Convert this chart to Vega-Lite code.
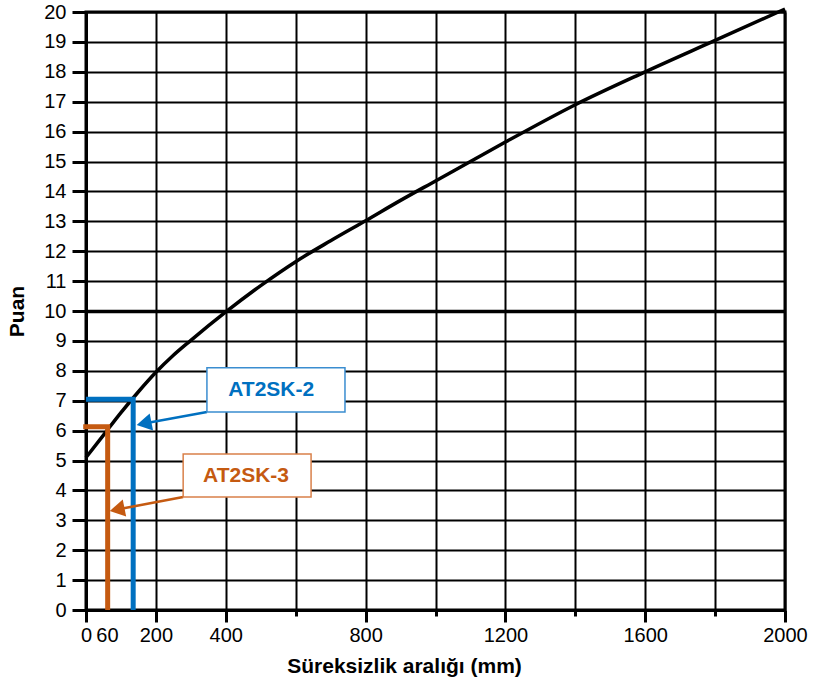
{
  "$schema": "https://vega.github.io/schema/vega-lite/v6.json",
  "width": 699,
  "height": 598,
  "autosize": {"type": "none"},
  "padding": {"left": 86, "top": 12, "right": 31, "bottom": 74},
  "background": "white",
  "config": {
    "view": {"stroke": "black", "strokeWidth": 3},
    "font": "Liberation Sans"
  },
  "datasets": {
    "curve": [
      {"mm": 0, "puan": 5.1},
      {"mm": 50, "puan": 5.85},
      {"mm": 100, "puan": 6.6},
      {"mm": 150, "puan": 7.3},
      {"mm": 200, "puan": 7.95},
      {"mm": 250, "puan": 8.52},
      {"mm": 300, "puan": 9.02},
      {"mm": 400, "puan": 9.97},
      {"mm": 500, "puan": 10.85},
      {"mm": 600, "puan": 11.65},
      {"mm": 700, "puan": 12.35},
      {"mm": 800, "puan": 13.02},
      {"mm": 900, "puan": 13.7},
      {"mm": 1000, "puan": 14.35},
      {"mm": 1100, "puan": 15.0},
      {"mm": 1200, "puan": 15.65},
      {"mm": 1400, "puan": 16.9},
      {"mm": 1600, "puan": 18.0},
      {"mm": 1800, "puan": 19.05},
      {"mm": 2000, "puan": 20.1}
    ],
    "guides": [
      {"name": "AT2SK-2", "mm": 0, "puan": 7.05, "o": 1},
      {"name": "AT2SK-2", "mm": 135, "puan": 7.05, "o": 2},
      {"name": "AT2SK-2", "mm": 135, "puan": 0, "o": 3},
      {"name": "AT2SK-3", "mm": -8, "puan": 6.13, "o": 1},
      {"name": "AT2SK-3", "mm": 62, "puan": 6.13, "o": 2},
      {"name": "AT2SK-3", "mm": 62, "puan": 0, "o": 3}
    ],
    "labels": [
      {"name": "AT2SK-2", "bx": 346, "bx2": 741, "by": 8.1, "by2": 6.62, "tx": 530, "ty": 7.36, "ax": 346, "ay": 6.62, "ax2": 166, "ay2": 6.24},
      {"name": "AT2SK-3", "bx": 278, "bx2": 644, "by": 5.22, "by2": 3.78, "tx": 458, "ty": 4.48, "ax": 278, "ay": 3.78, "ax2": 89, "ay2": 3.36}
    ]
  },
  "layer": [
    {
      "data": {"name": "curve"},
      "mark": {"type": "line", "color": "black", "strokeWidth": 3.5, "interpolate": "monotone"},
      "encoding": {
        "x": {
          "field": "mm", "type": "quantitative",
          "scale": {"domain": [0, 2000], "nice": false, "zero": false},
          "axis": {
            "title": "Süreksizlik aralığı (mm)",
            "titleFont": "Liberation Sans", "titleFontSize": 21, "titleFontWeight": "bold", "titleColor": "black",
            "titleX": 318, "titleY": 62, "titleBaseline": "alphabetic", "titleAlign": "center",
            "values": [0, 60, 200, 400, 600, 800, 1000, 1200, 1400, 1600, 1800, 2000],
            "tickCount": 30,
            "format": "d",
            "labelExpr": "indexof([0, 60, 200, 400, 800, 1200, 1600, 2000], datum.value) >= 0 ? datum.label : ''",
            "labelFontSize": 20, "labelColor": "black", "labelPadding": 3, "labelFlush": false, "labelOverlap": false,
            "domainColor": "black", "domainWidth": 3,
            "tickColor": "black", "tickWidth": 3,
            "tickSize": {"condition": {"test": "indexof([600, 1000, 1400, 1800], datum.value) >= 0", "value": 6}, "value": 12},
            "tickOpacity": {"condition": {"test": "datum.value == 60", "value": 0}, "value": 1},
            "grid": true, "gridColor": "black",
            "gridWidth": 2,
            "gridOpacity": {"condition": {"test": "datum.value == 60", "value": 0}, "value": 1}
          }
        },
        "y": {
          "field": "puan", "type": "quantitative",
          "scale": {"domain": [0, 20], "nice": false},
          "axis": {
            "title": "Puan",
            "titleFont": "Liberation Sans", "titleFontSize": 21, "titleFontWeight": "bold", "titleColor": "black",
            "titleX": -63, "titleBaseline": "alphabetic",
            "values": [0, 1, 2, 3, 4, 5, 6, 7, 8, 9, 10, 11, 12, 13, 14, 15, 16, 17, 18, 19, 20],
            "tickCount": 30,
            "format": "d",
            "labelFontSize": 20, "labelColor": "black", "labelPadding": 6, "labelOverlap": false,
            "domainColor": "black", "domainWidth": 3,
            "tickColor": "black", "tickWidth": 3, "tickSize": 14,
            "grid": true, "gridColor": "black",
            "gridWidth": {"condition": {"test": "datum.value == 10", "value": 3.5}, "value": 2}
          }
        }
      }
    },
    {
      "data": {"name": "guides"},
      "mark": {"type": "line", "strokeWidth": 5, "strokeJoin": "miter", "clip": false},
      "encoding": {
        "x": {"field": "mm", "type": "quantitative"},
        "y": {"field": "puan", "type": "quantitative"},
        "order": {"field": "o"},
        "detail": {"field": "name"},
        "color": {"field": "name", "type": "nominal", "scale": {"domain": ["AT2SK-2", "AT2SK-3"], "range": ["#0070C0", "#C55A11"]}, "legend": null}
      }
    },
    {
      "data": {"name": "labels"},
      "mark": {"type": "rule", "strokeWidth": 2.5},
      "encoding": {
        "x": {"field": "ax", "type": "quantitative"},
        "y": {"field": "ay", "type": "quantitative"},
        "x2": {"field": "ax2"},
        "y2": {"field": "ay2"},
        "color": {"field": "name", "type": "nominal", "legend": null}
      }
    },
    {
      "data": {"name": "labels"},
      "mark": {"type": "point", "shape": "triangle-left", "filled": true, "opacity": 1, "size": 300, "angle": 348.7},
      "encoding": {
        "x": {"field": "ax2", "type": "quantitative"},
        "y": {"field": "ay2", "type": "quantitative"},
        "color": {"field": "name", "type": "nominal", "legend": null}
      }
    },
    {
      "data": {"name": "labels"},
      "mark": {"type": "rect", "fill": "white", "strokeWidth": 1.5},
      "encoding": {
        "x": {"field": "bx", "type": "quantitative"},
        "x2": {"field": "bx2"},
        "y": {"field": "by", "type": "quantitative"},
        "y2": {"field": "by2"},
        "stroke": {"field": "name", "type": "nominal", "scale": {"domain": ["AT2SK-2", "AT2SK-3"], "range": ["#3A8DD0", "#D9804A"]}, "legend": null}
      }
    },
    {
      "data": {"name": "labels"},
      "mark": {"type": "text", "font": "Liberation Sans", "fontSize": 21, "fontWeight": "bold", "align": "center", "baseline": "middle"},
      "encoding": {
        "x": {"field": "tx", "type": "quantitative"},
        "y": {"field": "ty", "type": "quantitative"},
        "text": {"field": "name"},
        "color": {"field": "name", "type": "nominal", "legend": null}
      }
    }
  ]
}
